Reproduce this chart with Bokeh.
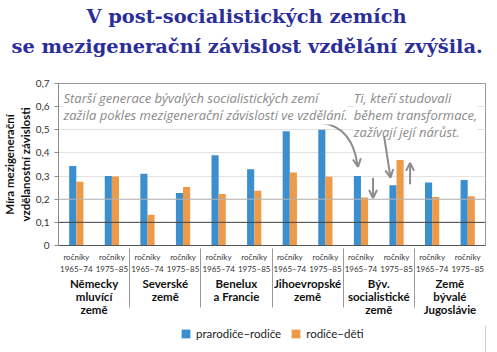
from bokeh.plotting import figure
from bokeh.layouts import column
from bokeh.models import (FactorRange, Range1d, FixedTicker, CustomJSTickFormatter, Span,
                          Label, Arrow, OpenHead, Legend, LegendItem, Title, ColumnDataSource)
from bokeh.transform import dodge
from bokeh.embed import file_html
from bokeh.resources import INLINE

groups = ["Německy\nmluvící\nzemě", "Severské\nzemě", "Benelux\na Francie",
          "Jihoevropské\nzemě", "Býv.\nsocialistické\nzemě", "Země\nbývalé\nJugoslávie"]
cohorts = ["ročníky\n1965–74", "ročníky\n1975–85"]
grandparents_parents = [0.343, 0.300, 0.310, 0.227, 0.390, 0.329, 0.494, 0.500, 0.300, 0.260, 0.272, 0.283]
parents_children = [0.275, 0.298, 0.133, 0.253, 0.222, 0.237, 0.315, 0.297, 0.207, 0.369, 0.210, 0.213]
series_names = ["prarodiče–rodiče", "rodiče–děti"]
y_ticks = [0, 0.1, 0.2, 0.3, 0.4, 0.5, 0.6, 0.7]
title_lines = ["V post-socialistických zemích", "se mezigenerační závislost vzdělání zvýšila."]
y_label = "Míra mezigenerační\nvzdělanostní závislosti"
note_old = "Starší generace bývalých socialistických zemí\nzažila pokles mezigenerační závislosti ve vzdělání."
note_young = "Ti, kteří studovali\nběhem transformace,\nzažívají její nárůst."

BLUE = "#3b8fcf"
ORANGE = "#ee9a48"
GREY = "#8c8c8c"
FONT = "Lato"
NOTE_FONT = "Open Sans"
TITLE_STYLE = dict(text_font="DejaVu Serif", text_font_size="19.4px", text_font_style="bold",
                   text_color="#2b2e9a", align="left")

factors = [(g, c) for g in groups for c in cohorts]
src = ColumnDataSource(dict(x=factors, a=grandparents_parents, b=parents_children))

p = figure(x_range=FactorRange(*factors, factor_padding=0, group_padding=0, range_padding=0),
           y_range=Range1d(0, 0.7), width=497, height=325, title=None,
           output_backend="svg", toolbar_location=None,
           min_border_left=57, min_border_right=12, min_border_top=0, min_border_bottom=80)

# spacer between the title and the plot frame
p.add_layout(Title(text=" ", text_font_size="10px", standoff=10), "above")
p.add_layout(Title(text=title_lines[1], offset=-47, standoff=6, **TITLE_STYLE), "above")
p.add_layout(Title(text=title_lines[0], offset=28, standoff=4, **TITLE_STYLE), "above")

r1 = p.vbar(x=dodge("x", -0.1, range=p.x_range), top="a", width=0.2, source=src,
            fill_color=BLUE, line_color=None)
r2 = p.vbar(x=dodge("x", 0.1, range=p.x_range), top="b", width=0.2, source=src,
            fill_color=ORANGE, line_color=None)

p.outline_line_color = "#9a9a9a"
p.xgrid.grid_line_color = None
p.ygrid.grid_line_color = "#e2e2e2"
p.ygrid.ticker = FixedTicker(ticks=y_ticks)
p.add_layout(Span(location=y_ticks[1], dimension="width", line_color="#444444", line_width=1), "center")
p.add_layout(Span(location=y_ticks[2], dimension="width", line_color="#b5b5b5", line_width=1), "center")

yax = p.yaxis[0]
yax.ticker = FixedTicker(ticks=y_ticks)
yax.formatter = CustomJSTickFormatter(code="return tick == 0 ? '0' : tick.toFixed(1).replace('.', ',');")
yax.axis_line_color = "#8c8c8c"
yax.major_tick_line_color = "#8c8c8c"
yax.major_tick_out = 4
yax.major_tick_in = 0
yax.minor_tick_line_color = None
yax.major_label_text_font = FONT
yax.major_label_text_font_size = "10px"
yax.major_label_text_color = "#333333"
yax.axis_label = y_label
yax.axis_label_text_font = FONT
yax.axis_label_text_font_size = "11.5px"
yax.axis_label_text_font_style = "bold"
yax.axis_label_text_color = "#111111"
yax.axis_label_standoff = 1

xax = p.xaxis[0]
xax.axis_line_color = "#555555"
xax.major_tick_line_color = None
xax.minor_tick_line_color = None
xax.major_label_text_font = FONT
xax.major_label_text_font_size = "8px"
xax.major_label_text_color = "#333333"
xax.major_label_text_line_height = 1.25
xax.major_label_standoff = 0
xax.group_text_font = FONT
xax.group_text_font_size = "11.5px"
xax.group_text_font_style = "bold"
xax.group_text_color = "#111111"
xax.group_text_line_height = 1.0
xax.separator_line_color = "#9a9a9a"
xax.separator_line_width = 1

note_style = dict(text_font=NOTE_FONT, text_font_size="13px", text_font_style="italic",
                  text_color="#8a8a8a", text_baseline="top", background_fill_color="white",
                  text_line_height=0.95)
p.add_layout(Label(x=0.14, y=0.675, text=note_old, **note_style))
p.add_layout(Label(x=8.3, y=0.675, text=note_young, **note_style))

# curved arrow from first note to the older cohort of former socialist countries
p.quadratic(x0=[7.42], y0=[0.529], x1=[8.40], y1=[0.35], cx=[8.25], cy=[0.51],
            line_color=GREY, line_width=2)
head = dict(size=8, line_color=GREY, line_width=2)
p.add_layout(Arrow(end=OpenHead(**head), x_start=8.36, y_start=0.40, x_end=8.42, y_end=0.34,
                   line_alpha=0))
p.add_layout(Arrow(end=OpenHead(**head), x_start=8.84, y_start=0.293, x_end=8.84, y_end=0.205,
                   line_color=GREY, line_width=2))
p.add_layout(Arrow(end=OpenHead(**head), x_start=9.15, y_start=0.472, x_end=9.33, y_end=0.293,
                   line_color=GREY, line_width=2))
p.add_layout(Arrow(end=OpenHead(**head), x_start=9.88, y_start=0.265, x_end=9.88, y_end=0.357,
                   line_color=GREY, line_width=2))

# legend strip below the chart (keys drawn from off-screen proxy bars)
pl = figure(width=497, height=27, x_range=Range1d(0, 1), y_range=Range1d(0, 1),
            output_backend="svg", toolbar_location=None, title=None,
            x_axis_location=None, y_axis_location=None, min_border=0)
pl.grid.visible = False
pl.outline_line_color = None
l1 = pl.vbar(x=[5], top=[5], width=0.1, fill_color=BLUE, line_color=None)
l2 = pl.vbar(x=[5], top=[5], width=0.1, fill_color=ORANGE, line_color=None)
legend = Legend(items=[LegendItem(label=series_names[0], renderers=[l1]),
                       LegendItem(label=series_names[1], renderers=[l2])],
                orientation="horizontal", location=(122, 12), border_line_alpha=0,
                background_fill_alpha=0, label_text_font=FONT, label_text_font_size="11.5px",
                label_text_color="#222222", glyph_width=11, glyph_height=11, spacing=9,
                padding=0, margin=0, label_height=11, label_standoff=5)
pl.add_layout(legend, "center")

open("out.html", "w").write(file_html(column(p, pl, spacing=0), INLINE))
